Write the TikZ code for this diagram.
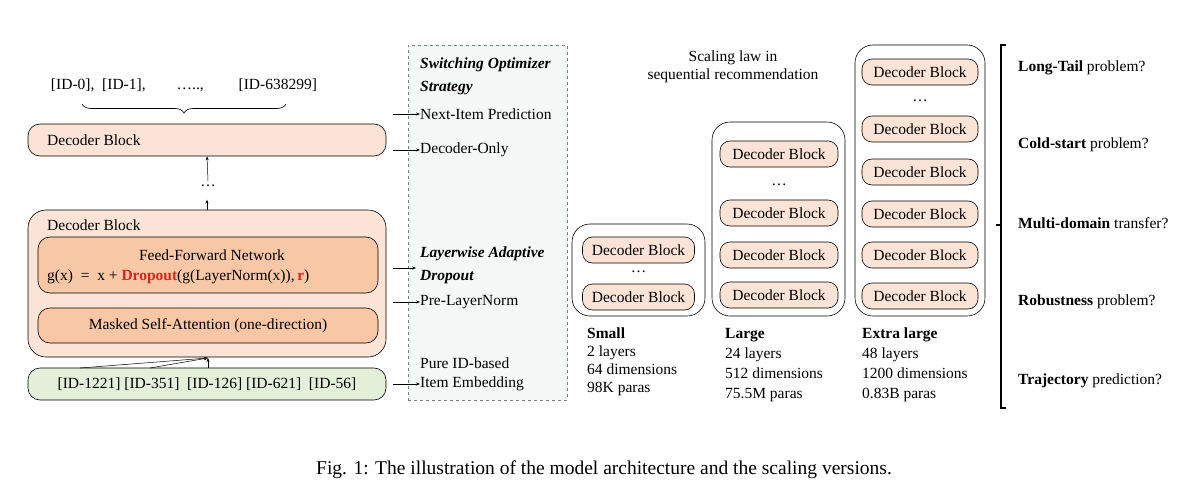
\documentclass[tikz,border=0pt]{standalone}
\usepackage{fontspec}
\setmainfont{Liberation Serif}
\usetikzlibrary{arrows.meta,decorations.pathreplacing}
\definecolor{peach}{HTML}{FBE3D6}
\definecolor{peachd}{HTML}{F7C7A6}
\definecolor{greenb}{HTML}{E2EFD9}
\definecolor{dashbg}{HTML}{F4F8F6}
\definecolor{dropred}{HTML}{D9261C}
\tikzset{
  txt/.style={font=\fontsize{15.5}{18}\selectfont, inner sep=0pt},
  lt/.style={txt, anchor=west},
  blk/.style={draw, rounded corners=12pt, fill=peach, line width=0.6pt, txt},
  blkd/.style={draw, rounded corners=12pt, fill=peachd, line width=0.6pt, txt},
  sblk/.style={draw, rounded corners=10pt, fill=peach, line width=0.6pt, txt, minimum height=26pt},
  cont/.style={draw, rounded corners=18pt, line width=0.6pt},
  arr/.style={-{Stealth[length=4pt,width=3pt]}, line width=0.5pt},
}
\begin{document}
\begin{tikzpicture}[x=1pt,y=-1pt]
\useasboundingbox (0,0) rectangle (1200,498);
% dashed box
\node[draw=gray, dashed, fill=dashbg, minimum width=159pt, minimum height=355pt, inner sep=0pt] (dash) at (487.5,222.5) {};
% left stack
\node[txt] (ids) at (184,85) {[ID-0],\ \ [ID-1],\qquad …..,\qquad\ [ID-638299]};
\draw[decorate, decoration={brace, amplitude=9pt, mirror}, line width=0.6pt] (82,104) -- (286,104);
\node[blk, minimum width=358pt, minimum height=32pt] (top) at (207,140) {};
\node[lt] (toplab) at (47,140) {Decoder Block};
\node[txt] (dots) at (208,186) {…};
\draw[arr] (dots.north) ++(0,-4) -- (top.south);
\node[blk, rounded corners=18pt, minimum width=358pt, minimum height=147pt] (big) at (207,283.5) {};
\draw[arr] (big.north) -- ++(0,-10) coordinate (dtop);
\node[lt] (biglab) at (47,225) {Decoder Block};
\node[blkd, minimum width=340pt, minimum height=56pt] (ffn) at (208,265) {};
\node[txt] (ffnt) at (212,255) {Feed-Forward Network};
\node[lt] (form) at (47,277) {g(x)\ \ =\ \ x + \textcolor{dropred}{\textbf{Dropout}}(g(LayerNorm(x)),\,\textcolor{dropred}{\textbf{r}})};
\node[blkd, minimum width=340pt, minimum height=35pt] (msa) at (208,325.5) {Masked Self-Attention (one-direction)};
\node[draw, rounded corners=12pt, fill=greenb, line width=0.6pt, txt, minimum width=358pt, minimum height=32pt] (emb) at (207,384) {[ID-1221] [ID-351]\ \ [ID-126] [ID-621]\ \ [ID-56]};
\coordinate (conv) at (208,358);
\draw[arr] (80,368) -- (conv);
\draw[arr] (150,368) -- (conv);
\draw[arr] (208,368) -- (conv);
% dashed box texts
\node[lt, font=\fontsize{15.5}{18}\selectfont\bfseries\itshape] (so1) at (420,65) {Switching Optimizer};
\node[lt, font=\fontsize{15.5}{18}\selectfont\bfseries\itshape] (so2) at (420,88) {Strategy};
\node[lt] (nip) at (420,114) {Next-Item Prediction};
\node[lt] (dco) at (420,150) {Decoder-Only};
\node[lt, font=\fontsize{15.5}{18}\selectfont\bfseries\itshape] (la1) at (420,254) {Layerwise Adaptive};
\node[lt, font=\fontsize{15.5}{18}\selectfont\bfseries\itshape] (la2) at (420,277) {Dropout};
\node[lt] (pln) at (420,302) {Pre-LayerNorm};
\node[lt] (pid) at (420,363) {Pure ID-based};
\node[lt] (iem) at (420,384) {Item Embedding};
\coordinate (a1) at (393,114); \draw[arr] (a1) -- (nip.west);
\coordinate (a2) at (393,150); \draw[arr] (a2) -- (dco.west);
\coordinate (a3) at (393,268); \draw[arr] (a3) -- (416,268);
\coordinate (a4) at (393,302); \draw[arr] (a4) -- (pln.west);
\coordinate (a5) at (393,384); \draw[arr] (a5) -- (iem.west);
% scaling
\node[txt, align=center] (title) at (733,67) {Scaling law in\\sequential recommendation};
\node[cont, minimum width=133pt, minimum height=92pt] (cs) at (638.5,270) {};
\node[sblk, minimum width=112pt] (s1) at (638.5,250) {Decoder Block};
\node[txt] at (638.5,272) {…};
\node[sblk, minimum width=112pt] (s2) at (638.5,297) {Decoder Block};
\node[cont, minimum width=133pt, minimum height=194pt] (cl) at (778.5,219) {};
\foreach \y/\n in {154/l1,213/l2,255/l3,295/l4} \node[sblk, minimum width=118pt] (\n) at (779,\y) {Decoder Block};
\node[txt] at (779,185) {…};
\node[cont, minimum width=130pt, minimum height=271pt] (cx) at (920,180.5) {};
\foreach \y/\n in {72/x1,129/x2,172/x3,214/x4,255/x5,296/x6} \node[sblk, minimum width=116pt] (\n) at (920,\y) {Decoder Block};
\node[txt] at (920,101) {…};
\node[lt, align=left, anchor=north west] (sl) at (587,328) {\textbf{Small}\\2 layers\\64 dimensions\\98K paras};
\node[lt, align=left, anchor=north west, font=\fontsize{15.5}{20}\selectfont] (ll) at (725,328) {\textbf{Large}\\24 layers\\512 dimensions\\75.5M paras};
\node[lt, align=left, anchor=north west, font=\fontsize{15.5}{20}\selectfont] (xl) at (862,328) {\textbf{Extra large}\\48 layers\\1200 dimensions\\0.83B paras};
\node[lt, align=left, anchor=north west, font=\fontsize{15.5}{20}\selectfont] (sl2) at (587,328) {};
% bracket
\draw[line width=1.1pt] (1006,45) -- (1001,45) -- (1001,408) -- (1006,408);
\draw[line width=1.1pt] (1001,225) -- (996,225);
\node[lt] (q1) at (1018,68) {\textbf{Long-Tail} problem?};
\node[lt] (q2) at (1018,145) {\textbf{Cold-start} problem?};
\node[lt] (q3) at (1018,223) {\textbf{Multi-domain} transfer?};
\node[lt] (q4) at (1018,302) {\textbf{Robustness} problem?};
\node[lt] (q5) at (1018,381) {\textbf{Trajectory} prediction?};
% caption
\node[txt, font=\fontsize{19.5}{22}\selectfont] (cap) at (604,470) {Fig. 1: The illustration of the model architecture and the scaling versions.};
\end{tikzpicture}
\end{document}
